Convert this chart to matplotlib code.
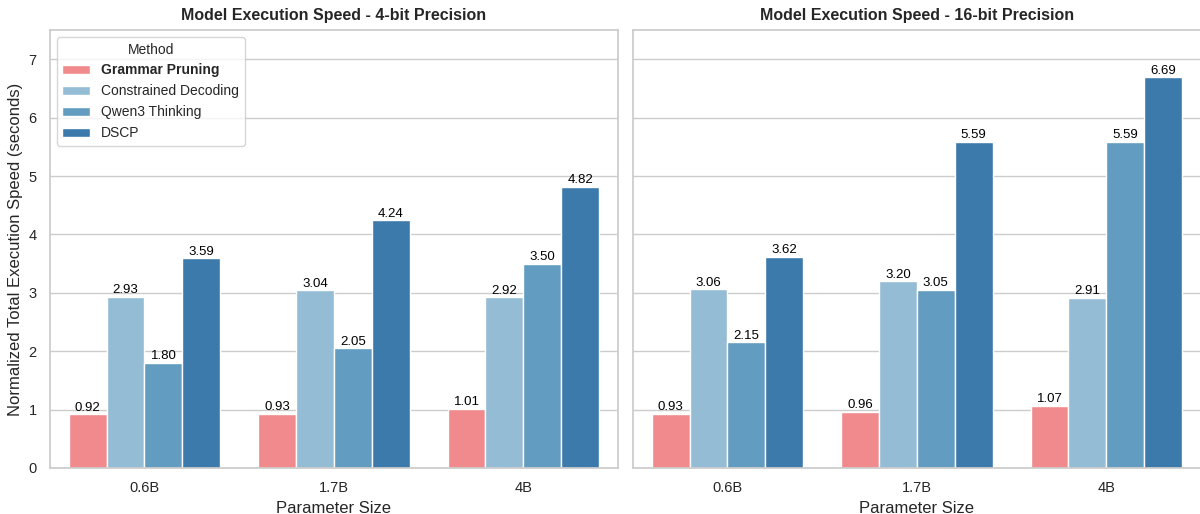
import numpy as np
import matplotlib
matplotlib.use("Agg")
import matplotlib.pyplot as plt
import seaborn as sns

sizes = ["0.6B", "1.7B", "4B"]
methods = ["Grammar Pruning", "Constrained Decoding", "Qwen3 Thinking", "DSCP"]
speed_4bit = {
    "Grammar Pruning": [0.92, 0.93, 1.01],
    "Constrained Decoding": [2.93, 3.04, 2.92],
    "Qwen3 Thinking": [1.80, 2.05, 3.50],
    "DSCP": [3.59, 4.24, 4.82],
}
speed_16bit = {
    "Grammar Pruning": [0.93, 0.96, 1.07],
    "Constrained Decoding": [3.06, 3.20, 2.91],
    "Qwen3 Thinking": [2.15, 3.05, 5.59],
    "DSCP": [3.62, 5.59, 6.69],
}
colors = ["#F08A8C", "#94BCD4", "#629CC0", "#3C7AAB"]

sns.set_theme(style="whitegrid")
plt.rcParams['font.family'] = ['Liberation Sans', 'DejaVu Sans']
fig, axes = plt.subplots(1, 2, figsize=(12, 5.14), dpi=100, sharey=True)

x = np.arange(len(sizes))
w = 0.2
for ax, data, title in zip(axes, [speed_4bit, speed_16bit],
                           ["Model Execution Speed - 4-bit Precision",
                            "Model Execution Speed - 16-bit Precision"]):
    for i, m in enumerate(methods):
        vals = data[m]
        bars = ax.bar(x + (i - 1.5) * w, vals, w, color=colors[i],
                      edgecolor="white", linewidth=1, label=m)
        for b, v in zip(bars, vals):
            ax.text(b.get_x() + b.get_width() / 2, v + 0.01, f"{v:.2f}",
                    ha="center", va="bottom", fontsize=9.5, color="black")
    ax.set_xticks(x)
    ax.set_xticklabels(sizes, fontsize=10.5)
    ax.set_title(title, fontsize=11.5, fontweight="bold", pad=7)
    ax.set_xlabel("Parameter Size", fontsize=12)
    ax.set_xlim(-0.5, 2.5)
    ax.grid(axis="x", visible=False)
    ax.tick_params(axis="y", labelsize=10.5)

axes[0].set_ylim(0, 7.5)
axes[0].set_ylabel("Normalized Total Execution Speed (seconds)", fontsize=12)
leg = axes[0].legend(title="Method", loc="upper left", fontsize=10, title_fontsize=10)
leg.get_texts()[0].set_fontweight("bold")

plt.subplots_adjust(left=0.0415, right=1.0008, top=0.9416, bottom=0.0895, wspace=0.026)
plt.savefig("out.png")
